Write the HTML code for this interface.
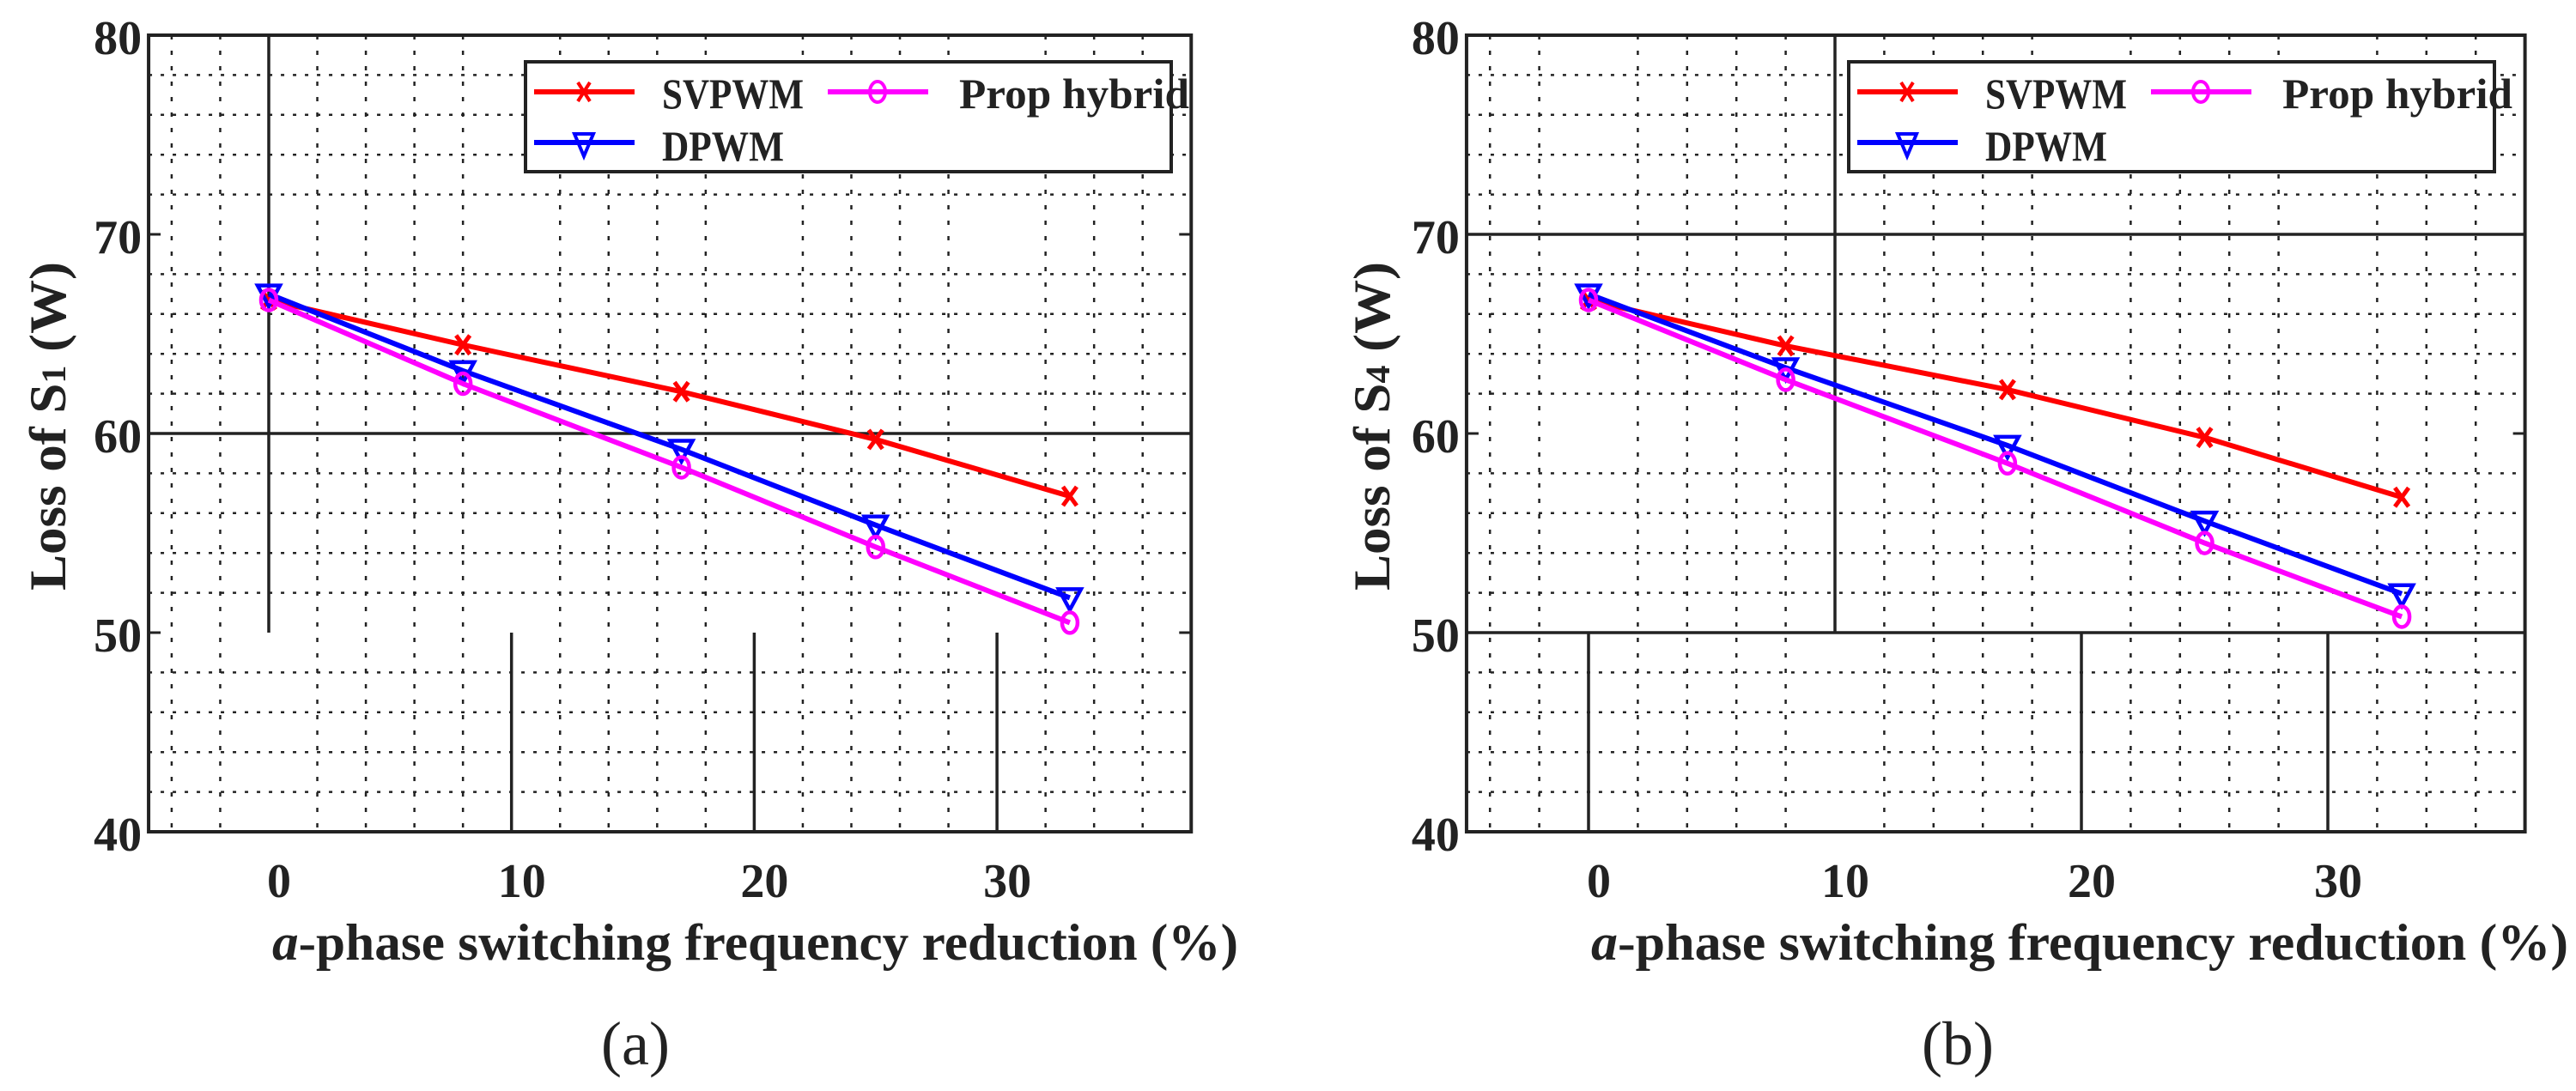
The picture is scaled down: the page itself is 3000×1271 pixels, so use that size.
<!DOCTYPE html>
<html><head><meta charset="utf-8"><style>
html,body{margin:0;padding:0;background:#fff;}
svg{display:block;}
text{font-family:"Liberation Serif",serif;font-weight:bold;fill:#222;}
text.cap{font-weight:normal;}
</style></head>
<body>
<svg id="fig" width="3000" height="1271" viewBox="0 0 3000 1271" xmlns="http://www.w3.org/2000/svg"></svg>
<script>
const xValues = [0, 8, 17, 25, 33];
const aSvpwm = [66.7, 64.45, 62.1, 59.7, 56.85];
const aDpwm = [67.0, 63.15, 59.2, 55.4, 51.75];
const aProp = [66.7, 62.5, 58.3, 54.3, 50.5];
const bSvpwm = [66.7, 64.4, 62.2, 59.8, 56.8];
const bDpwm = [67.0, 63.3, 59.4, 55.6, 51.95];
const bProp = [66.7, 62.7, 58.5, 54.5, 50.8];
const yTicks = [40, 50, 60, 70, 80];
const xTicks = [0, 10, 20, 30];
const seriesNames = ["SVPWM", "DPWM", "Prop hybrid"];

const NS = "http://www.w3.org/2000/svg";
const svg = document.getElementById("fig");
function mk(tag, attrs, parent) {
  const e = document.createElementNS(NS, tag);
  for (const k in attrs) e.setAttribute(k, attrs[k]);
  (parent || svg).appendChild(e);
  return e;
}

function panel(cfg) {
  const g = mk("g", {});
  
  
  const X = v => cfg.x0 + v * cfg.ux;
  const Y = v => 41 + (80 - v) * 23.2;
  const L = X(-4.95), R = X(38);
  for (let v = 42; v < 80; v += 2) {
    if (v % 10 === 0) continue;
    const l = mk("line", {x1: L, x2: R, y1: Y(v), y2: Y(v), stroke: "#222", "stroke-width": 2.5, "stroke-dasharray": "4 10"}, g);
    
    
  }
  for (let v = -4; v <= 36; v += 2) {
    if (v % 10 === 0) continue;
    const l = mk("line", {x1: X(v), x2: X(v), y1: Y(80), y2: Y(40), stroke: "#222", "stroke-width": 2.5, "stroke-dasharray": "5 13"}, g);
    
    
  }
  cfg.solid.forEach(s => {
    const l = mk("line", {x1: X(s[0]), x2: X(s[1]), y1: Y(s[2]), y2: Y(s[3]), stroke: "#222", "stroke-width": 3.5}, g);
    
    
  });
  const box = mk("rect", {x: L, y: Y(80), width: R - L, height: Y(40) - Y(80), fill: "none", stroke: "#222", "stroke-width": 4}, g);
  
  
  yTicks.forEach(v => {
    const t = mk("line", {x1: L, x2: L + 14, y1: Y(v), y2: Y(v), stroke: "#222", "stroke-width": 3}, g);
    
    
    const t2 = mk("line", {x1: R, x2: R - 14, y1: Y(v), y2: Y(v), stroke: "#222", "stroke-width": 3}, g);
    
    
    const tx = mk("text", {x: L - 8, y: Y(v) + 22, "text-anchor": "end", "font-size": 56}, g);
    tx.textContent = v;
    
    
  });
  xTicks.forEach(v => {
    const tx = mk("text", {x: X(v) + 12, y: 1045, "text-anchor": "middle", "font-size": 56}, g);
    tx.textContent = v;
    
    
  });
  const cols = ["#ff0000", "#0000ff", "#ff00ff"];
  const data = [cfg.s, cfg.d, cfg.p];
  data.forEach((arr, si) => {
    const pts = arr.map((v, i) => X(xValues[i]) + "," + Y(v)).join(" ");
    const pl = mk("polyline", {points: pts, fill: "none", stroke: cols[si], "stroke-width": 6}, g);
    
    
    arr.forEach((v, i) => {
      const mx = X(xValues[i]), my = Y(v);
      let m;
      if (si === 0) {
        m = mk("path", {d: `M${mx-8},${my-11}L${mx+8},${my+11}M${mx+8},${my-11}L${mx-8},${my+11}`, stroke: cols[0], "stroke-width": 5, fill: "none"}, g);
      } else if (si === 1) {
        m = mk("path", {d: `M${mx-13},${my-10}L${mx+13},${my-10}L${mx},${my+14}Z`, stroke: cols[1], "stroke-width": 4.5, fill: "none"}, g);
      } else {
        m = mk("ellipse", {cx: mx, cy: my, rx: 9, ry: 12, stroke: cols[2], "stroke-width": 4.5, fill: "none"}, g);
      }
      
      
    });
  });
  const lg = mk("g", {}, g);
  
  
  const lx = cfg.legX;
  mk("rect", {x: lx, y: 72, width: 752, height: 128, fill: "#fff", stroke: "#222", "stroke-width": 4}, lg);
  const ent = [[lx + 10, 107, lx + 159, 126, 0], [lx + 10, 166, lx + 159, 187, 1], [lx + 352, 107, lx + 505, 126, 2]];
  const tw = [165, 142, 268];
  ent.forEach(e => {
    const si = e[4];
    const eg = mk("g", {}, lg);
    
    
    mk("line", {x1: e[0], x2: e[0] + 117, y1: e[1], y2: e[1], stroke: cols[si], "stroke-width": 6}, eg);
    const mx = e[0] + 58, my = e[1];
    if (si === 0) mk("path", {d: `M${mx-7},${my-11}L${mx+7},${my+11}M${mx+7},${my-11}L${mx-7},${my+11}`, stroke: cols[0], "stroke-width": 4, fill: "none"}, eg);
    if (si === 1) mk("path", {d: `M${mx-11},${my-10}L${mx+11},${my-10}L${mx},${my+16}Z`, stroke: cols[1], "stroke-width": 4, fill: "none"}, eg);
    if (si === 2) mk("ellipse", {cx: mx, cy: my, rx: 9, ry: 12, stroke: cols[2], "stroke-width": 4, fill: "none"}, eg);
    const t = mk("text", {x: e[2], y: e[3], "font-size": 50, textLength: tw[si], lengthAdjust: "spacingAndGlyphs", fill: "#000"}, eg);
    t.textContent = seriesNames[si];
  });
  const xl = mk("text", {x: cfg.xlStart, y: 1118, "font-size": 60, textLength: cfg.xlEnd - cfg.xlStart, lengthAdjust: "spacingAndGlyphs"}, g);
  
  
  const it = mk("tspan", {"font-style": "italic"}, xl); it.textContent = "a";
  const rest = mk("tspan", {}, xl); rest.textContent = "-phase switching frequency reduction (%)";
  const yl = mk("text", {x: 0, y: 0, "font-size": 60, textLength: 383, lengthAdjust: "spacingAndGlyphs", transform: `translate(${cfg.ylX},688) rotate(-90)`}, g);
  
  
  const a1 = mk("tspan", {}, yl); a1.textContent = "Loss of S";
  const a2 = mk("tspan", {"font-size": 40}, yl); a2.textContent = cfg.sub;
  const a3 = mk("tspan", {}, yl); a3.textContent = " (W)";
  const cap = mk("text", {x: cfg.capX, y: 1240, "text-anchor": "middle", "font-size": 72, "class": "cap"}, g);
  cap.textContent = cfg.cap;
  
  
}

panel({name: "panel-a", x0: 313, ux: 28.27, s: aSvpwm, d: aDpwm, p: aProp, legX: 612,
  solid: [[0, 0, 80, 50], [-4.95, 38, 60, 60], [10, 10, 50, 40], [20, 20, 50, 40], [30, 30, 50, 40]],
  xlStart: 317, xlEnd: 1442, ylX: 76, sub: "1", cap: "(a)", capX: 740});
panel({name: "panel-b", x0: 1850, ux: 28.7, s: bSvpwm, d: bDpwm, p: bProp, legX: 2153,
  solid: [[10, 10, 80, 50], [-4.95, 38, 70, 70], [-4.95, 38, 50, 50], [0, 0, 50, 40], [20, 20, 50, 40], [30, 30, 50, 40]],
  xlStart: 1853, xlEnd: 2991, ylX: 1618, sub: "4", cap: "(b)", capX: 2280});
</script>
</body></html>
